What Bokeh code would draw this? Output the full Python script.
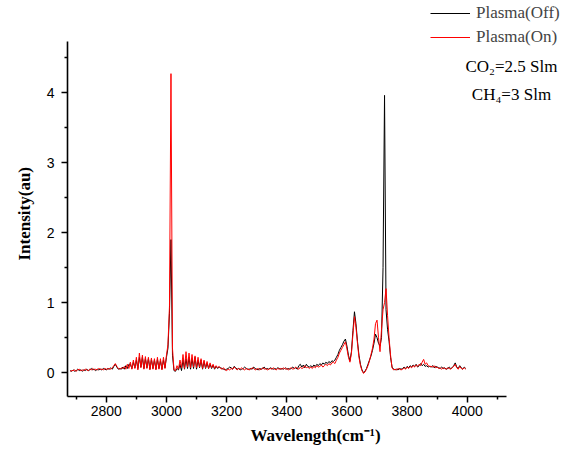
import numpy as np
from bokeh.plotting import figure
from bokeh.models import Range1d, FixedTicker, Legend, LegendItem, Label, Title
from bokeh.embed import file_html
from bokeh.resources import INLINE

# wavenumber grid (cm^-1), 5 cm^-1 steps from 2680 to 3995
wavenumber = list(range(2680, 4000, 5))

plasma_off = [
    0.03,0.02,0.04,0.02,0.03,0.05,0.03,0.04,0.02,0.04,0.03,0.05,0.03,0.04,0.06,0.04,0.05,0.03,0.05,0.04,
    0.05,0.04,0.06,0.05,0.04,0.06,0.05,0.07,0.05,0.09,0.12,0.08,0.05,0.06,0.05,0.08,0.05,0.10,0.06,0.12,
    0.12,0.06,0.15,0.07,0.18,0.06,0.22,0.08,0.22,0.06,0.20,0.07,0.20,0.05,0.19,0.06,0.18,0.05,0.19,0.06,
    0.17,0.05,0.18,0.07,0.22,0.35,0.85,1.90,0.25,0.03,0.02,0.06,0.04,0.12,0.03,0.18,0.05,0.20,0.06,0.22,
    0.05,0.20,0.06,0.22,0.05,0.18,0.07,0.18,0.05,0.16,0.06,0.14,0.06,0.12,0.06,0.11,0.05,0.09,0.06,0.08,
    0.07,0.06,0.05,0.04,0.05,0.06,0.08,0.07,0.05,0.09,0.07,0.05,0.06,0.04,0.05,0.06,0.08,0.06,0.05,0.05,
    0.06,0.05,0.08,0.06,0.05,0.04,0.06,0.05,0.06,0.08,0.05,0.06,0.05,0.07,0.06,0.05,0.06,0.05,0.07,0.06,
    0.05,0.06,0.05,0.07,0.05,0.06,0.05,0.06,0.08,0.06,0.07,0.05,0.10,0.12,0.08,0.11,0.07,0.12,0.09,0.08,
    0.10,0.08,0.11,0.09,0.12,0.10,0.13,0.11,0.14,0.12,0.15,0.13,0.16,0.14,0.17,0.16,0.18,0.22,0.26,0.32,
    0.36,0.40,0.45,0.48,0.38,0.25,0.17,0.30,0.60,0.87,0.70,0.45,0.25,0.12,0.04,0.00,0.02,0.06,0.12,0.18,
    0.24,0.32,0.42,0.55,0.50,0.42,0.38,0.50,1.50,3.96,0.90,0.62,0.45,0.22,0.08,0.05,0.04,0.05,0.04,0.06,
    0.05,0.06,0.08,0.06,0.09,0.07,0.10,0.08,0.11,0.09,0.12,0.08,0.10,0.13,0.10,0.12,0.09,0.10,0.08,0.09,
    0.08,0.10,0.07,0.09,0.08,0.07,0.06,0.08,0.06,0.07,0.05,0.06,0.08,0.06,0.07,0.10,0.14,0.08,0.06,0.10,
    0.07,0.05,0.08,0.06,
]

plasma_on = [
    0.02,0.03,0.03,0.04,0.02,0.04,0.05,0.03,0.04,0.03,0.05,0.04,0.03,0.05,0.04,0.06,0.04,0.05,0.04,0.06,
    0.05,0.05,0.04,0.06,0.05,0.05,0.06,0.05,0.07,0.10,0.13,0.09,0.06,0.05,0.07,0.06,0.09,0.05,0.12,0.06,
    0.15,0.05,0.18,0.06,0.22,0.04,0.28,0.07,0.25,0.05,0.23,0.06,0.22,0.04,0.21,0.05,0.20,0.04,0.22,0.05,
    0.20,0.04,0.22,0.06,0.25,0.40,0.95,4.27,0.35,0.04,0.03,0.10,0.05,0.18,0.07,0.26,0.06,0.30,0.08,0.28,
    0.07,0.26,0.08,0.24,0.07,0.22,0.08,0.20,0.06,0.18,0.07,0.16,0.06,0.14,0.07,0.12,0.06,0.10,0.07,0.09,
    0.06,0.05,0.07,0.04,0.03,0.05,0.04,0.06,0.05,0.08,0.06,0.04,0.06,0.05,0.07,0.05,0.04,0.06,0.05,0.04,
    0.05,0.07,0.06,0.04,0.05,0.06,0.04,0.05,0.07,0.05,0.06,0.04,0.05,0.06,0.05,0.07,0.05,0.04,0.06,0.05,
    0.06,0.05,0.07,0.05,0.06,0.04,0.06,0.07,0.05,0.06,0.08,0.06,0.05,0.08,0.06,0.07,0.10,0.07,0.08,0.06,
    0.08,0.06,0.09,0.07,0.10,0.08,0.09,0.11,0.08,0.10,0.12,0.10,0.13,0.11,0.14,0.15,0.13,0.18,0.22,0.28,
    0.32,0.36,0.40,0.44,0.34,0.22,0.15,0.28,0.55,0.80,0.65,0.42,0.22,0.10,0.03,-0.01,0.01,0.05,0.10,0.17,
    0.26,0.35,0.48,0.70,0.75,0.50,0.30,0.62,0.90,1.00,1.20,0.82,0.50,0.25,0.07,0.04,0.05,0.04,0.06,0.05,
    0.04,0.05,0.07,0.05,0.08,0.06,0.09,0.07,0.10,0.08,0.11,0.09,0.12,0.10,0.15,0.19,0.12,0.14,0.10,0.09,
    0.09,0.08,0.10,0.07,0.08,0.06,0.07,0.05,0.07,0.06,0.05,0.07,0.06,0.05,0.07,0.09,0.12,0.07,0.05,0.09,
    0.06,0.05,0.07,0.05,
]

x_major = [2800, 3000, 3200, 3400, 3600, 3800, 4000]
x_minor = [2700, 2900, 3100, 3300, 3500, 3700, 3900, 4100]
y_major = [0, 1, 2, 3, 4]
y_minor = [0.5, 1.5, 2.5, 3.5, 4.5]
x_bounds = (2671, 4131)
y_bounds = (-0.34, 4.73)

W, H = 560, 454
p = figure(width=W, height=H, output_backend="svg", toolbar_location=None,
           x_range=Range1d(2671, 4310), y_range=Range1d(-0.34, 5.286),
           min_border_left=67, min_border_right=0, min_border_top=2, min_border_bottom=58)
p.outline_line_color = None
p.grid.visible = False
p.background_fill_color = "white"
p.border_fill_color = "white"

r_off = p.line(wavenumber, plasma_off, line_color="black", line_width=1)
r_on = p.line(wavenumber, plasma_on, line_color="#ff0000", line_width=1)

for ax in (p.xaxis[0], p.yaxis[0]):
    ax.axis_line_width = 1.6
    ax.axis_line_color = "black"
    ax.major_tick_line_width = 1.5
    ax.minor_tick_line_width = 1.5
    ax.major_tick_out = 6
    ax.major_tick_in = 0
    ax.minor_tick_out = 3
    ax.minor_tick_in = 0
    ax.major_label_text_font = "Liberation Sans"
    ax.major_label_text_font_size = "14px"
    ax.major_label_text_color = "black"

p.xaxis.bounds = x_bounds
p.yaxis.bounds = y_bounds
p.xaxis.ticker = FixedTicker(ticks=x_major, minor_ticks=x_minor)
p.yaxis.ticker = FixedTicker(ticks=y_major, minor_ticks=y_minor)
p.xaxis.major_label_standoff = 3
p.yaxis.major_label_standoff = 7
p.xaxis.axis_label = None
p.yaxis.axis_label = None

xt = Title(text="Wavelength(cm\u207b\u00b9)", align="left", offset=183,
           text_font="Liberation Serif", text_font_style="bold",
           text_font_size="17px", text_color="black", standoff=10)
p.add_layout(xt, "below")

yt = Title(text="Intensity(au)", align="left", offset=136,
           text_font="Liberation Serif", text_font_style="bold",
           text_font_size="17px", text_color="black", standoff=20)
p.add_layout(yt, "left")

legend = Legend(items=[LegendItem(label="Plasma(Off)", renderers=[r_off]),
                       LegendItem(label="Plasma(On)", renderers=[r_on])],
                location=(363, 349.5), orientation="vertical",
                background_fill_alpha=0, border_line_color=None,
                label_text_font="Liberation Serif", label_text_font_size="17px",
                glyph_width=40, glyph_height=20, label_height=20, spacing=4,
                padding=0, margin=0, label_standoff=6)
p.add_layout(legend)

t1 = Label(x=4147, y=4.37, text="CO\u2082=2.5 Slm", text_align="center", text_baseline="middle",
           text_font="Liberation Serif", text_font_size="17px", text_color="black")
t2 = Label(x=4147, y=3.97, text="CH\u2084=3 Slm", text_align="center", text_baseline="middle",
           text_font="Liberation Serif", text_font_size="17px", text_color="black")
p.add_layout(t1)
p.add_layout(t2)

open("out.html", "w").write(file_html(p, INLINE))
